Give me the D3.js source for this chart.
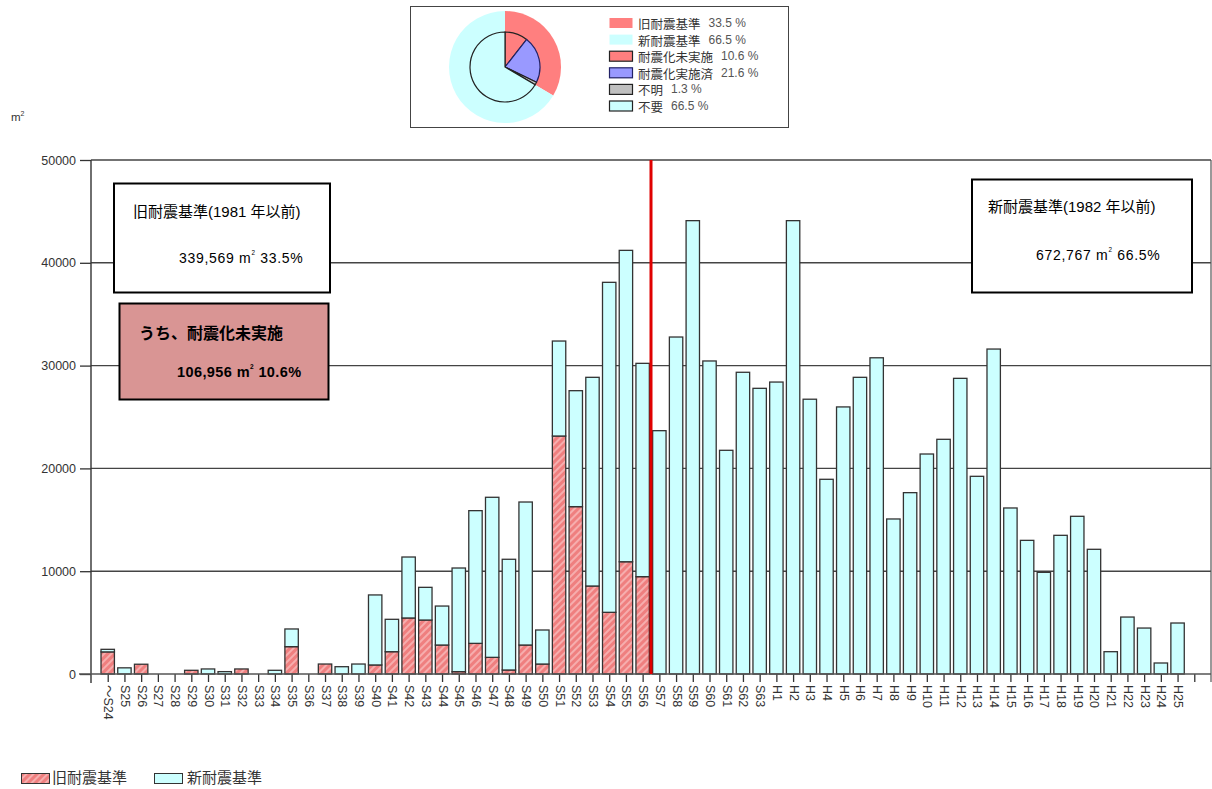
<!DOCTYPE html>
<html lang="ja">
<head>
<meta charset="utf-8">
<script src="https://cdn.jsdelivr.net/npm/d3@7"></script>
<style>
  html, body { margin: 0; padding: 0; background: #fff; }
  svg { display: block; font-family: "Liberation Sans", Arial, "Noto Sans CJK JP", sans-serif; }
</style>
</head>
<body>
<script>
// Floor area by construction year (m²)
const categories = ["～S24","S25","S26","S27","S28","S29","S30","S31","S32","S33","S34","S35","S36","S37","S38","S39",
  "S40","S41","S42","S43","S44","S45","S46","S47","S48","S49","S50","S51","S52","S53","S54","S55","S56",
  "S57","S58","S59","S60","S61","S62","S63",
  "H1","H2","H3","H4","H5","H6","H7","H8","H9","H10","H11","H12","H13","H14","H15","H16","H17","H18","H19","H20",
  "H21","H22","H23","H24","H25"];

// 旧耐震基準 portion (hatched, bottom of stack)
const oldStandard = [2150,0,950,0,0,360,0,0,490,0,0,2660,0,970,0,0,
  880,2170,5450,5250,2820,230,2980,1620,390,2820,970,23150,16280,8560,6000,10920,9470,
  0,0,0,0,0,0,0,
  0,0,0,0,0,0,0,0,0,0,0,0,0,0,0,0,0,0,0,0,
  0,0,0,0,0];

// 新耐震基準 portion (cyan, stacked on top)
const newStandard = [250,600,0,0,0,0,490,230,0,0,360,1720,0,0,710,970,
  6810,3150,5930,3180,3790,10080,12910,15570,10770,13910,3310,9240,11280,20300,32100,30290,20750,
  23670,32780,44100,30450,21760,29350,27790,
  28400,44100,26730,18940,25980,28860,30760,15080,17640,21400,22830,28760,19230,31610,16150,13000,9890,13490,15340,12130,
  2170,5540,4470,1070,4960];

const yTicks = [0,10000,20000,30000,40000,50000];

// Summary donut: outer ring and inner pie
const outerLabels = ["旧耐震基準","新耐震基準"];
const outerValues = [33.5,66.5];
const innerLabels = ["耐震化未実施","耐震化実施済","不明","不要"];
const innerValues = [10.6,21.6,1.3,66.5];

const outerColors = ["#FF7F7F","#CCFFFF"];
const innerColors = ["#FF7F7F","#9999FF","#C0C0C0","#CCFFFF"];

const W = 1212, H = 789;
const plot = {left: 91, right: 1211, top: 160, bottom: 674};

const svg = d3.select("body").append("svg").attr("width", W).attr("height", H);

// hatch pattern for the old-standard segments
const defs = svg.append("defs");
const pat = defs.append("pattern").attr("id","hatch").attr("patternUnits","userSpaceOnUse")
  .attr("width",5).attr("height",5).attr("patternTransform","rotate(45)");
pat.append("rect").attr("width",5).attr("height",5).attr("fill","#EF7F7F");
pat.append("line").attr("x1",1).attr("y1",0).attr("x2",1).attr("y2",5)
  .attr("stroke","#FCCDCD").attr("stroke-width",1.2);

// scales: category i sits at position i+1 on a 0..67 track
const x = d3.scaleLinear().domain([0, 67]).range([plot.left, plot.right]);
const y = d3.scaleLinear().domain([0, 50000]).range([plot.bottom, plot.top]);
const barW = 13.4;

// horizontal gridlines
svg.append("g").selectAll("line").data(yTicks.filter(d => d > 0)).join("line")
  .attr("x1", plot.left).attr("x2", plot.right)
  .attr("y1", d => y(d)).attr("y2", d => y(d))
  .attr("stroke", "#444").attr("stroke-width", 1.4);

// stacked bars
const rows = categories.map((c, i) => ({cat: c, pos: i + 1, old: oldStandard[i], neu: newStandard[i]}));
const stack = d3.stack().keys(["old", "neu"])(rows);
const fills = {old: "url(#hatch)", neu: "#CCFFFF"};

stack.forEach(layer => {
  svg.append("g").selectAll("rect").data(layer.filter(d => d[1] - d[0] > 0)).join("rect")
    .attr("x", d => x(d.data.pos) - barW / 2)
    .attr("width", barW)
    .attr("y", d => y(d[1]))
    .attr("height", d => y(d[0]) - y(d[1]))
    .attr("fill", fills[layer.key])
    .attr("stroke", "#333")
    .attr("stroke-width", 1.3);
});

// y axis
const yAxis = d3.axisLeft(y).tickValues(yTicks).tickSize(11).tickPadding(4).tickFormat(d3.format("d"));
const gy = svg.append("g").attr("transform", `translate(${plot.left},0)`).call(yAxis);
gy.select(".domain").remove();
gy.selectAll(".tick line").attr("stroke", "#333").attr("stroke-width", 1.3);
gy.selectAll(".tick text").attr("fill", "#333").attr("font-size", 12.5)
  .attr("font-family", "'Liberation Sans', Arial, sans-serif");
svg.append("line").attr("x1", plot.left).attr("x2", plot.left)
  .attr("y1", plot.top).attr("y2", plot.bottom + 9).attr("stroke", "#333").attr("stroke-width", 1.4);
svg.append("line").attr("x1", plot.right).attr("x2", plot.right)
  .attr("y1", plot.top).attr("y2", plot.bottom + 8).attr("stroke", "#555").attr("stroke-width", 1.2);

// unit label
const unit = svg.append("text").attr("x", 11).attr("y", 121).attr("font-size", 11.5).attr("fill", "#333");
unit.append("tspan").text("m");
unit.append("tspan").attr("font-size", 7).attr("dy", -5).text("2");

// x axis
const xAxis = d3.axisBottom(x).tickValues(d3.range(1, 67))
  .tickSize(8).tickFormat(v => categories[v - 1] || "");
const gx = svg.append("g").attr("transform", `translate(0,${plot.bottom})`).call(xAxis);
gx.select(".domain").remove();
gx.selectAll(".tick line").attr("stroke", "#333").attr("stroke-width", 1.3);
gx.selectAll(".tick text")
  .attr("fill", "#333").attr("font-size", 12.5)
  .attr("font-family", "'Liberation Sans', Arial, 'Noto Sans CJK JP', sans-serif")
  .attr("text-anchor", "start").attr("dy", null).attr("y", 0)
  .attr("dominant-baseline", "central")
  .attr("transform", "translate(0,11) rotate(90)");
svg.append("line").attr("x1", plot.left - 12).attr("x2", plot.right)
  .attr("y1", plot.bottom).attr("y2", plot.bottom).attr("stroke", "#555").attr("stroke-width", 1.3);

// divider between old and new seismic standards
svg.append("line").attr("x1", x(33.5)).attr("x2", x(33.5))
  .attr("y1", plot.top).attr("y2", plot.bottom)
  .attr("stroke", "#E00000").attr("stroke-width", 3);

// annotation boxes
function areaText(g, tx, ty, parts, opts) {
  const t = g.append("text").attr("x", tx).attr("y", ty).attr("font-size", opts.size)
    .attr("font-weight", opts.weight || "normal").attr("fill", "#000")
    .attr("letter-spacing", opts.spacing || 0)
    .attr("dominant-baseline", "middle");
  t.append("tspan").text(parts[0]);
  t.append("tspan").attr("font-size", opts.size * 0.45).attr("dy", -opts.size * 0.4).text("2");
  t.append("tspan").attr("dy", opts.size * 0.4).text(parts[1]);
  return t;
}

const boxes = svg.append("g").attr("font-family", "'Liberation Sans', Arial, 'Noto Sans CJK JP', sans-serif");
boxes.append("rect").attr("x", 114).attr("y", 183.5).attr("width", 216).attr("height", 109)
  .attr("fill", "#fff").attr("stroke", "#000").attr("stroke-width", 2);
boxes.append("text").attr("x", 133).attr("y", 213).attr("font-size", 15).attr("dominant-baseline", "middle")
  .text("旧耐震基準(1981 年以前)");
areaText(boxes, 179, 259, ["339,569 m", " 33.5%"], {size: 14, spacing: 0.7});

boxes.append("rect").attr("x", 119.5).attr("y", 303.5).attr("width", 209).attr("height", 96)
  .attr("fill", "#D99594").attr("stroke", "#000").attr("stroke-width", 2);
boxes.append("text").attr("x", 139).attr("y", 335).attr("font-size", 16).attr("font-weight", "bold")
  .attr("dominant-baseline", "middle").text("うち、耐震化未実施");
areaText(boxes, 177, 373, ["106,956 m", " 10.6%"], {size: 14.5, weight: "bold", spacing: 0.4});

boxes.append("rect").attr("x", 972).attr("y", 179.5).attr("width", 220).attr("height", 113)
  .attr("fill", "#fff").attr("stroke", "#000").attr("stroke-width", 2);
boxes.append("text").attr("x", 988).attr("y", 208).attr("font-size", 15).attr("dominant-baseline", "middle")
  .text("新耐震基準(1982 年以前)");
areaText(boxes, 1036, 256, ["672,767 m", " 66.5%"], {size: 14, spacing: 0.7});

// bottom legend
const leg = svg.append("g").attr("font-family", "'Noto Sans CJK JP', sans-serif").attr("font-size", 15);
leg.append("rect").attr("x", 21.5).attr("y", 773.5).attr("width", 28).attr("height", 10)
  .attr("fill", "url(#hatch)").attr("stroke", "#333").attr("stroke-width", 1);
leg.append("text").attr("x", 52).attr("y", 779).attr("dominant-baseline", "middle").attr("fill", "#333").text("旧耐震基準");
leg.append("rect").attr("x", 154.5).attr("y", 773.5).attr("width", 28).attr("height", 10)
  .attr("fill", "#CCFFFF").attr("stroke", "#333").attr("stroke-width", 1);
leg.append("text").attr("x", 187).attr("y", 779).attr("dominant-baseline", "middle").attr("fill", "#333").text("新耐震基準");

// summary panel
const panel = svg.append("g");
panel.append("rect").attr("x", 410.5).attr("y", 6.5).attr("width", 378).attr("height", 121)
  .attr("fill", "#fff").attr("stroke", "#444").attr("stroke-width", 1);

const cx = 505, cy = 67;
const pie = d3.pie().sort(null).value(d => d);
const outerArc = d3.arc().innerRadius(0).outerRadius(56);
const innerArc = d3.arc().innerRadius(0).outerRadius(35);
panel.append("g").attr("transform", `translate(${cx},${cy})`)
  .selectAll("path").data(pie(outerValues)).join("path")
  .attr("d", outerArc).attr("fill", (d, i) => outerColors[i]);
panel.append("g").attr("transform", `translate(${cx},${cy})`)
  .selectAll("path").data(pie(innerValues)).join("path")
  .attr("d", innerArc).attr("fill", (d, i) => innerColors[i])
  .attr("stroke", (d, i) => i === 1 ? "#222266" : "#222").attr("stroke-width", 1.2);

const legendItems = outerLabels.map((l, i) => ({label: l, value: outerValues[i], color: outerColors[i], outline: false}))
  .concat(innerLabels.map((l, i) => ({label: l, value: innerValues[i], color: innerColors[i], outline: true})));
const li = panel.append("g").attr("font-family", "'Noto Sans CJK JP', sans-serif").attr("font-size", 12.5)
  .selectAll("g").data(legendItems).join("g")
  .attr("transform", (d, i) => `translate(609,${23 + i * 16.6})`);
li.append("rect").attr("x", 0.5).attr("y", -5).attr("width", 23).attr("height", 10)
  .attr("fill", d => d.color)
  .attr("stroke", d => d.outline ? (d.color === "#9999FF" ? "#222266" : "#222") : "none")
  .attr("stroke-width", 1.2);
const lt = li.append("text").attr("x", 29).attr("y", 0).attr("dominant-baseline", "central").attr("fill", "#333");
lt.append("tspan").text(d => d.label);
lt.append("tspan").attr("dx", 8).attr("fill", "#555")
  .attr("font-family", "'Liberation Sans', Arial, sans-serif").attr("font-size", 12)
  .text(d => `${d.value} %`);
</script>
</body>
</html>
